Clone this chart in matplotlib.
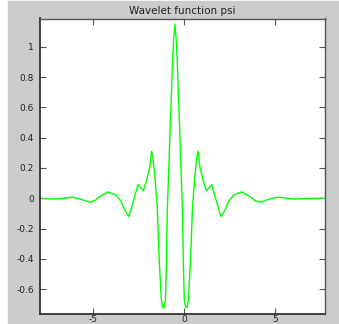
import matplotlib
matplotlib.use("Agg")
import matplotlib.pyplot as plt
from matplotlib.patches import Rectangle

plt.rcParams['axes.unicode_minus'] = False

# psi values (left tail -> centre -> right tail)
t = [-7.94, -7.66, -7.10, -6.56, -6.10, -5.65, -5.19, -4.91, -4.64, -4.18,
     -3.73, -3.45, -3.25, -3.03, -2.71, -2.53, -2.24, -2.07, -1.87, -1.78,
     -1.71, -1.60, -1.47, -1.36, -1.25, -1.18, -1.10, -1.02, -0.97, -0.92,
     -0.87, -0.81, -0.76, -0.69, -0.63, -0.56, -0.50,
     -0.44, -0.37, -0.31, -0.24, -0.19, -0.13, -0.08, -0.03, 0.02, 0.10,
     0.18, 0.25, 0.36, 0.47, 0.60, 0.71, 0.78, 0.87, 1.07, 1.24,
     1.53, 1.71, 2.03, 2.25, 2.45, 2.73, 3.18, 3.64, 3.91, 4.19,
     4.65, 5.10, 5.56, 6.10, 6.66, 7.22, 7.75]
psi = [0.000, -0.002, -0.005, 0.002, 0.007, -0.007, -0.026, -0.016, 0.011, 0.042,
       0.022, -0.022, -0.080, -0.120, 0.010, 0.090, 0.050, 0.110, 0.210, 0.310,
       0.275, 0.143, -0.055, -0.410, -0.660, -0.720, -0.720, -0.680, -0.450, -0.100,
       0.080, 0.280, 0.470, 0.690, 0.910, 1.070, 1.150,
       1.070, 0.910, 0.690, 0.470, 0.280, 0.080, -0.100, -0.450, -0.680, -0.720,
       -0.720, -0.660, -0.410, -0.055, 0.143, 0.275, 0.310, 0.210, 0.110, 0.050,
       0.090, 0.010, -0.120, -0.080, -0.022, 0.022, 0.042, 0.011, -0.016, -0.026,
       -0.007, 0.007, 0.002, -0.005, -0.002, 0.000, 0.000]

xticks = [-5, 0, 5]
yticks = [-0.6, -0.4, -0.2, 0, 0.2, 0.4, 0.6, 0.8, 1]

fig = plt.figure(figsize=(3.39, 3.24), dpi=100, facecolor='white')
# gray window background
bg = Rectangle((8/339, 0), 1 - 8/339, 1 - 1/324,
               transform=fig.transFigure, color='#cccccc', zorder=-5)
fig.add_artist(bg)

ax = fig.add_axes([39.5/339, 1 - 314/324, (325 - 39.5)/339, (314 - 18.5)/324])
ax.set_zorder(1)
ax.plot(t, psi, color='#00ff00', lw=1.0)

ax.set_xlim(-7.94, 7.75)
ax.set_ylim(-0.764, 1.187)
ax.set_xticks(xticks)
ax.set_yticks(yticks)
ax.set_yticklabels(['-0.6', '-0.4', '-0.2', '0', '0.2', '0.4', '0.6', '0.8', '1'])
ax.tick_params(direction='in', length=4, width=0.8, top=True, right=True,
               labelsize=6.5, labelcolor='#222222', color='#555555')
ax.tick_params(axis='x', pad=1)
ax.tick_params(axis='y', pad=4)
for s in ['left', 'bottom']:
    ax.spines[s].set_color('#333333')
    ax.spines[s].set_linewidth(1.3)
for s in ['top', 'right']:
    ax.spines[s].set_color('#555555')
    ax.spines[s].set_linewidth(1.0)

ax.set_title('Wavelet function psi', fontsize=7.5, color='#222222', pad=3)

fig.savefig('out.png', dpi=100, facecolor=fig.get_facecolor())
